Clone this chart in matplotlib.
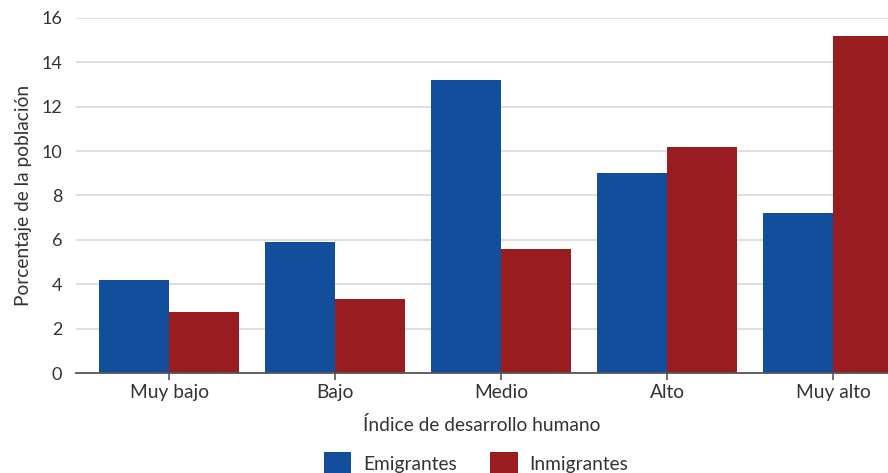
import numpy as np
import matplotlib
matplotlib.use("Agg")
import matplotlib.pyplot as plt
from matplotlib.patches import Patch

categorias = ["Muy bajo", "Bajo", "Medio", "Alto", "Muy alto"]
emigrantes = [4.2, 5.9, 13.2, 9.0, 7.2]
inmigrantes = [2.75, 3.35, 5.6, 10.2, 15.2]
series = ["Emigrantes", "Inmigrantes"]
colores = ["#134e9c", "#981c20"]

plt.rcParams["font.family"] = ["Lato", "DejaVu Sans"]

fig = plt.figure(figsize=(8.88, 4.73), dpi=100)
ax = fig.add_axes([0.0856, 0.2114, 0.9144, 0.7506])

x = np.arange(len(categorias))
ancho = 0.42
ax.bar(x - ancho / 2, emigrantes, ancho, color=colores[0], zorder=3)
ax.bar(x + ancho / 2, inmigrantes, ancho, color=colores[1], zorder=3)

ax.set_xlim(-0.56, 4.33)
ax.set_ylim(0, 16)
ax.set_yticks(range(0, 17, 2))
ax.set_xticks(x)
ax.set_xticklabels(categorias)

ax.grid(axis="y", color="#d9d9d9", linewidth=1.2, zorder=0)
for s in ["top", "right", "left"]:
    ax.spines[s].set_visible(False)
ax.spines["bottom"].set_color("#555555")
ax.spines["bottom"].set_linewidth(1.3)
ax.spines["bottom"].set_zorder(4)

ax.tick_params(axis="y", length=0, pad=10, labelsize=13, labelcolor="#333333")
ax.tick_params(axis="x", length=5, width=1.2, color="#555555", pad=3,
               labelsize=13.8, labelcolor="#333333")

ax.set_ylabel("Porcentaje de la población", fontsize=13.8, color="#333333", labelpad=7)
ax.set_xlabel("Índice de desarrollo humano", fontsize=13.8, color="#333333", labelpad=11)

handles = [Patch(facecolor=c, edgecolor="none") for c in colores]
fig.legend(handles, series, loc="center", bbox_to_anchor=(0.536, 0.02), ncol=2,
           frameon=False, fontsize=13.8, handlelength=1.45, handleheight=1.45,
           columnspacing=1.75, handletextpad=0.6, labelcolor="#333333")

fig.savefig("out.png", dpi=100)
